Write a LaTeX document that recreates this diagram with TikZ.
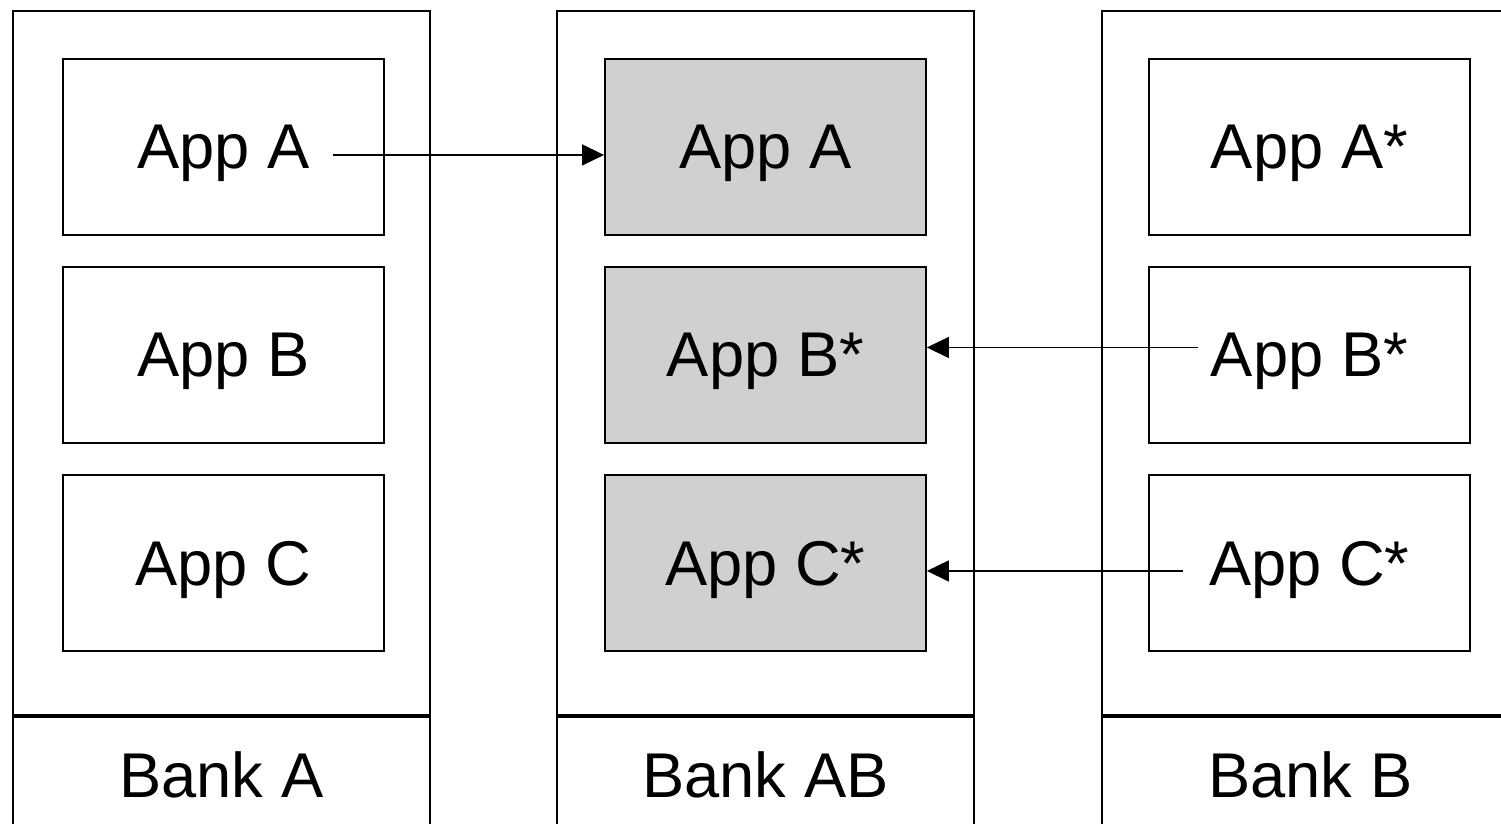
\documentclass[tikz,border=0pt]{standalone}
\usepackage{fontspec}
\setmainfont{Liberation Sans}
\usetikzlibrary{arrows.meta}
\definecolor{appgray}{RGB}{208,208,208}

\begin{document}
\begin{tikzpicture}[x=0.02cm,y=-0.02cm,
  bank/.style={draw,line width=1.1pt,minimum width=8.34cm,minimum height=14.08cm,anchor=north west,inner sep=0pt},
  banklabel/.style={draw,line width=1.1pt,minimum width=8.34cm,minimum height=2.32cm,anchor=north,inner sep=0pt,font=\fontsize{36}{43}\selectfont,text depth=0pt},
  app/.style={draw,line width=1.1pt,minimum width=6.42cm,minimum height=3.52cm,anchor=north west,inner sep=0pt,font=\fontsize{36}{43}\selectfont,text depth=0pt},
  moved/.style={app,fill=appgray},
  flow/.style={-{Triangle[length=0.44cm,width=0.42cm]},line width=0.9pt}]
\useasboundingbox (0,0) rectangle (1501,823);
\clip (0,0) rectangle (1501,823);
% the three banks, the last one runs off the right edge
\node[bank] (bankA) at (12,10) {};
\node[banklabel] (lblA) at (bankA.south) {Bank A};
\node[bank] (bankAB) at (556,10) {};
\node[banklabel] (lblAB) at (bankAB.south) {Bank AB};
\node[bank] (bankB) at (1101,10) {};
\node[banklabel] (lblB) at (bankB.south) {Bank B};
% apps in each bank
\foreach \y/\n in {58/A,266/B,474/C}
  \node[app] (a\n) at (62,\y) {App \n};
\node[moved] (gA) at (604,58) {App A};
\node[moved] (gB) at (604,266) {App B*};
\node[moved] (gC) at (604,474) {App C*};
\foreach \y/\n in {58/A,266/B,474/C}
  \node[app] (b\n) at (1148,\y) {App \n*};
% moves into the merged bank
\draw[flow,shorten <=2.2cm] ([yshift=-0.16cm]aA.center) -- ([yshift=-0.16cm]gA.west);
\draw[flow,shorten <=2.23cm] ([yshift=0.15cm]bB.center) -- ([yshift=0.15cm]gB.east);
\draw[flow,shorten <=2.53cm] ([yshift=-0.16cm]bC.center) -- ([yshift=-0.16cm]gC.east);
\end{tikzpicture}
\end{document}
